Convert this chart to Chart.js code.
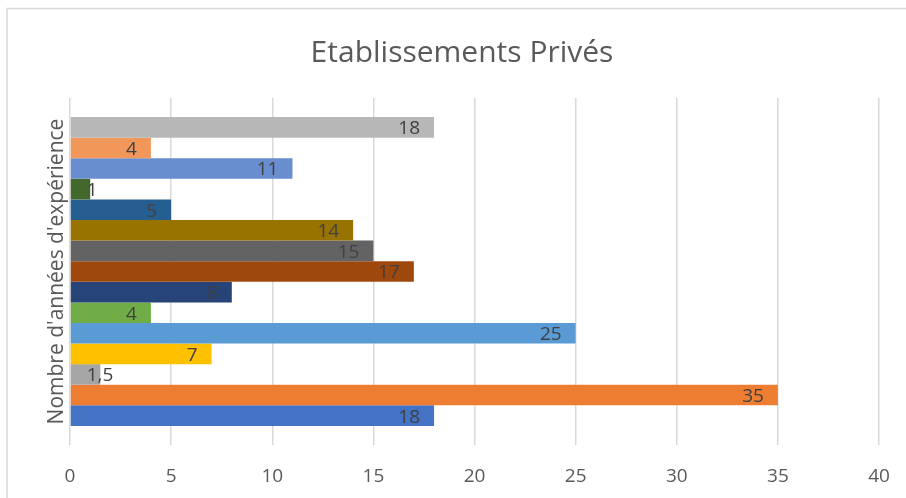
<!DOCTYPE html>
<html lang="fr">
<head>
<meta charset="utf-8">
<title>Etablissements Privés</title>
<script src="https://cdn.jsdelivr.net/npm/chart.js@4.4.1/dist/chart.umd.min.js"></script>
<style>
  html, body { margin: 0; padding: 0; background: #fff; }
  canvas { display: block; }
</style>
</head>
<body>
<canvas id="chart-prives" width="906" height="498"></canvas>
<script>
/* Données : une seule catégorie, 15 séries (série 1 en bas) */
const categories = [''];
const seriesValues = [18, 35, 1.5, 7, 25, 4, 8, 17, 15, 14, 5, 1, 11, 4, 18];
const seriesColors = [
  '#4472C4', '#ED7D31', '#A5A5A5', '#FFC000', '#5B9BD5',
  '#70AD47', '#264478', '#9E480E', '#636363', '#997300',
  '#255E91', '#43682B', '#698ED0', '#F1975A', '#B7B7B7'
];
const xTickMin = 0;
const xTickMax = 40;
const xTickStep = 5;

const FONT = '"Open Sans", "Noto Sans", sans-serif';

/* Chart.js empile les barres du haut vers le bas : on inverse l'ordre */
const datasets = seriesValues.map((v, i) => ({
  label: 'Série ' + (i + 1),
  data: [v],
  backgroundColor: seriesColors[i],
  borderWidth: 0,
  categoryPercentage: 0.89,
  barPercentage: 1
})).reverse();

/* Cadre + titre */
const cadreTitre = {
  id: 'cadreTitre',
  beforeDraw(chart) {
    const c = chart.ctx;
    c.save();
    c.fillStyle = '#fff';
    c.fillRect(0, 0, chart.width, chart.height);
    c.strokeStyle = '#D9D9D9';
    c.lineWidth = 1.5;
    c.strokeRect(7, 8.5, 1200, 1200);
    c.restore();
  },
  afterDraw(chart) {
    const c = chart.ctx;
    c.save();
    c.font = '30px ' + FONT;
    c.fillStyle = '#595959';
    c.textAlign = 'center';
    c.textBaseline = 'alphabetic';
    c.fillText('Etablissements Privés', 462, 62);
    c.restore();
  }
};

/* Étiquettes de valeur, extrémité intérieure */
const etiquettes = {
  id: 'etiquettes',
  afterDatasetsDraw(chart) {
    const c = chart.ctx;
    c.save();
    c.font = '19px ' + FONT;
    c.fillStyle = '#404040';
    c.textBaseline = 'middle';
    c.textAlign = 'left';
    chart.data.datasets.forEach((ds, i) => {
      chart.getDatasetMeta(i).data.forEach((bar, j) => {
        const txt = String(ds.data[j]).replace('.', ',');
        const w = c.measureText(txt).width;
        let x = bar.x - 14 - w;
        if (x < bar.base + 16) x = bar.base + 16;
        c.fillText(txt, x, bar.y + 1.5);
      });
    });
    c.restore();
  }
};

new Chart(document.getElementById('chart-prives'), {
  type: 'bar',
  data: { labels: categories, datasets },
  plugins: [cadreTitre, etiquettes],
  options: {
    indexAxis: 'y',
    responsive: false,
    animation: false,
    devicePixelRatio: 1,
    layout: { padding: { left: 0, right: 27, top: 98, bottom: 0 } },
    plugins: {
      legend: { display: false },
      title: { display: false },
      tooltip: { enabled: false }
    },
    scales: {
      x: {
        min: xTickMin,
        max: xTickMax,
        afterFit: s => {
          s.height = 53;
          s.paddingLeft = 0;
          s.paddingRight = 0;
        },
        grid: { color: '#D9D9D9', lineWidth: 1.5, drawTicks: false },
        border: { display: false },
        ticks: {
          stepSize: xTickStep,
          padding: 20,
          color: '#595959',
          font: { family: FONT, size: 19 }
        }
      },
      y: {
        afterFit: s => { s.width = 70; },
        grid: { display: false },
        border: { display: false },
        ticks: { display: false },
        title: {
          display: true,
          text: "Nombre d'années d'expérience",
          color: '#595959',
          font: { family: FONT, size: 21 },
          padding: { top: 44, bottom: 0 }
        }
      }
    }
  }
});
</script>
</body>
</html>
